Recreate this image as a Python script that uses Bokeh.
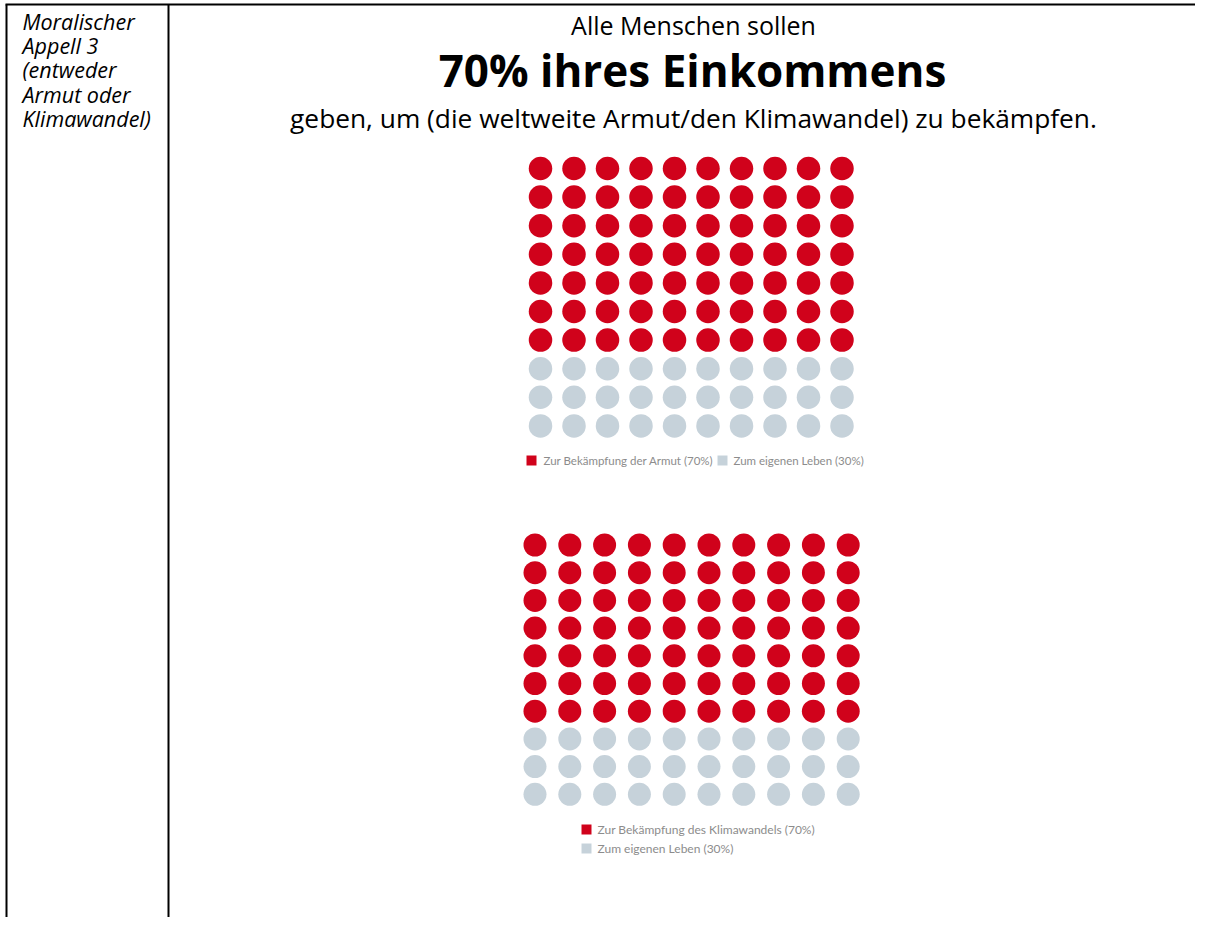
from bokeh.plotting import figure
from bokeh.models import Range1d, ColumnDataSource
from bokeh.core.properties import value
from bokeh.embed import file_html
from bokeh.resources import INLINE

# ---- data ----
side_label = ["Moralischer", "Appell 3", "(entweder", "Armut oder", "Klimawandel)"]
title_lines = ["Alle Menschen sollen", "70% ihres Einkommens",
               "geben, um (die weltweite Armut/den Klimawandel) zu bekämpfen."]
grid_rows = 10
grid_cols = 10
shares = [70, 30]
legend_armut = ["Zur Bekämpfung der Armut (70%)", "Zum eigenen Leben (30%)"]
legend_klima = ["Zur Bekämpfung des Klimawandels (70%)", "Zum eigenen Leben (30%)"]

RED = "#d0021b"
GREY = "#c6d2da"
colors = [RED, GREY]

W, H = 1195, 917
p = figure(width=W, height=H, x_range=Range1d(0, W), y_range=Range1d(H, 0),
           output_backend="svg", toolbar_location=None, min_border=0)
p.axis.visible = False
p.grid.visible = False
p.outline_line_color = None
p.background_fill_color = "white"
p.border_fill_color = "white"

# table borders
p.segment(x0=[5, 6, 168], y0=[4, 4, 4], x1=[W, 6, 168], y1=[4, H, H],
          line_color="black", line_width=2)

# left cell text
for i, t in enumerate(side_label):
    p.text(x=[22], y=[21 + i * 24.2], text=[t], text_font=value("Open Sans"),
           text_font_style="italic", text_font_size="21.5px", text_color="black",
           text_baseline="alphabetic", text_align="left")

# title
p.text(x=[693], y=[24], text=[title_lines[0]], text_font=value("Open Sans"),
       text_font_size="25px", text_color="black", text_baseline="alphabetic", text_align="center")
p.text(x=[692], y=[69], text=[title_lines[1]], text_font=value("Open Sans"),
       text_font_style="bold", text_font_size="44px", text_color="black",
       text_baseline="alphabetic", text_align="center")
p.text(x=[693], y=[117], text=[title_lines[2]], text_font=value("Open Sans"),
       text_font_size="26.3px", text_color="black", text_baseline="alphabetic", text_align="center")


def waffle(x0, y0, dx, dy, diam):
    xs, ys, cs = [], [], []
    n = 0
    for k, share in enumerate(shares):
        for _ in range(share):
            r, c = divmod(n, grid_cols)
            xs.append(x0 + c * dx)
            ys.append(y0 + r * dy)
            cs.append(colors[k])
            n += 1
    src = ColumnDataSource(dict(x=xs, y=ys, c=cs))
    p.scatter(x="x", y="y", source=src, size=diam, fill_color="c", line_color=None)


waffle(540, 168, 33.5, 28.6, 23.5)
waffle(534.5, 544.5, 34.8, 27.7, 23)

# legend 1 (horizontal)
p.rect(x=[531, 722], y=[460, 460], width=10, height=10, fill_color=colors, line_color=None)
p.text(x=[543, 733], y=[460, 460], text=legend_armut, text_font=value("Lato"),
       text_font_size="11.5px", text_color="#8c8c8c", text_baseline="middle", text_align="left")

# legend 2 (vertical)
p.rect(x=[586, 586], y=[829, 848], width=10, height=10, fill_color=colors, line_color=None)
p.text(x=[597, 597], y=[829, 848], text=legend_klima, text_font=value("Lato"),
       text_font_size="12px", text_color="#8c8c8c", text_baseline="middle", text_align="left")

open("out.html", "w").write(file_html(p, INLINE))
